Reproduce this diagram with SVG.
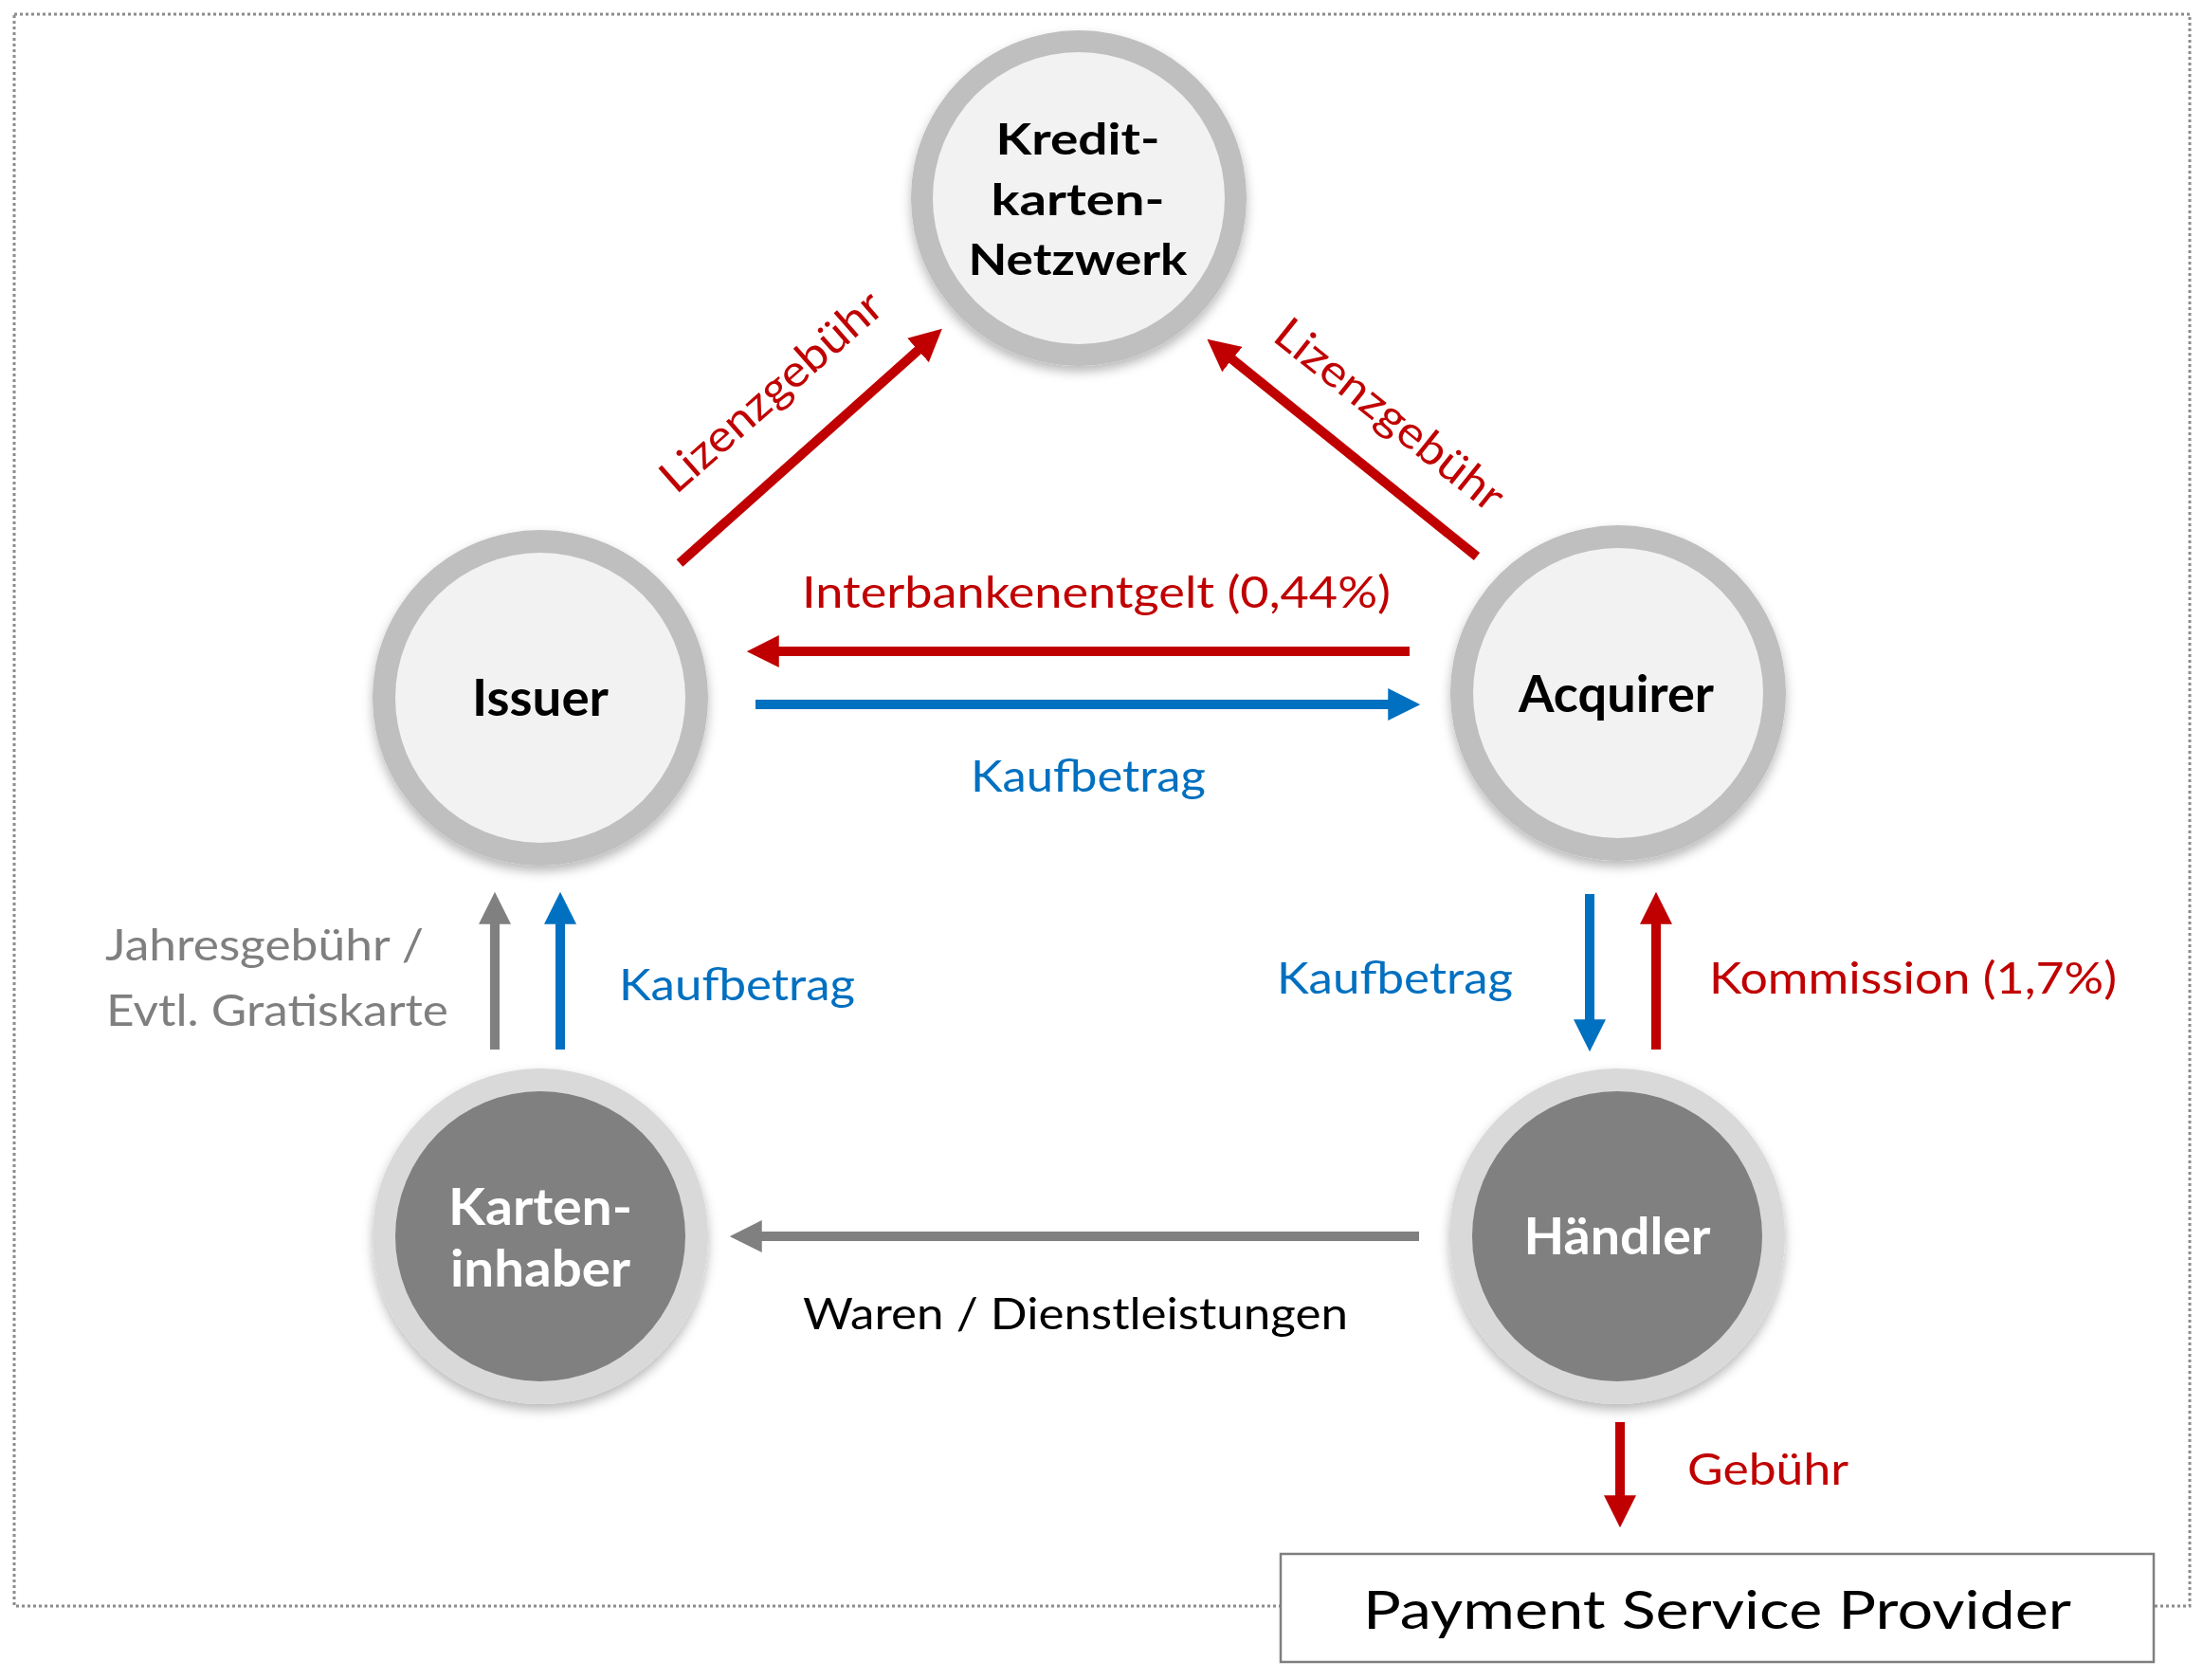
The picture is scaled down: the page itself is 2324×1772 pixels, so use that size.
<svg xmlns="http://www.w3.org/2000/svg" width="2324" height="1772" viewBox="0 0 2324 1772">
<style>
.ringL{fill:#bfbfbf}
.coreL{fill:#f2f2f2}
.ringD{fill:#d9d9d9}
.coreD{fill:#808080}
.nt{font-family:Lato,"Open Sans",sans-serif;font-weight:700;font-size:53px;text-anchor:middle}
.nk{font-size:45px}
.dark{fill:#000}
.light{fill:#fff}
.lb{font-family:Lato,"Liberation Sans",sans-serif;font-size:47px}
.red{fill:#c00000}
.blue{fill:#0070c0}
.gray{fill:#7f7f7f}
.blk{fill:#000}
.ar{fill:none;stroke-width:10}
.sr{stroke:#c00000}
.sb{stroke:#0070c0}
.sg{stroke:#808080}
</style>
<defs>
<filter id="sh" x="-20%" y="-20%" width="140%" height="150%">
<feDropShadow dx="0" dy="6" stdDeviation="6" flood-color="#000" flood-opacity="0.28"/>
</filter>
<marker id="mr" markerUnits="userSpaceOnUse" markerWidth="34" markerHeight="34" viewBox="0 0 32 32" refX="12" refY="16" orient="auto"><path d="M0,0 L32,16 L0,32 z" fill="#c00000"/></marker>
<marker id="mb" markerUnits="userSpaceOnUse" markerWidth="34" markerHeight="34" viewBox="0 0 32 32" refX="12" refY="16" orient="auto"><path d="M0,0 L32,16 L0,32 z" fill="#0070c0"/></marker>
<marker id="mg" markerUnits="userSpaceOnUse" markerWidth="34" markerHeight="34" viewBox="0 0 32 32" refX="12" refY="16" orient="auto"><path d="M0,0 L32,16 L0,32 z" fill="#808080"/></marker>
</defs>
<rect width="2324" height="1772" fill="#fff"/>
<rect id="frame" x="15" y="15" width="2295" height="1679" fill="none" stroke="#8c8c8c" stroke-width="3" stroke-dasharray="3 3"/>

<g id="connectors">
<line class="ar sr" x1="717" y1="594" x2="978" y2="361" marker-end="url(#mr)"/>
<line class="ar sr" x1="1558" y1="587" x2="1290" y2="371" marker-end="url(#mr)"/>
<line class="ar sr" x1="1487" y1="687" x2="809" y2="687" marker-end="url(#mr)"/>
<line class="ar sb" x1="797" y1="743" x2="1477" y2="743" marker-end="url(#mb)"/>
<line class="ar sg" x1="522" y1="1107" x2="522" y2="962" marker-end="url(#mg)"/>
<line class="ar sb" x1="591" y1="1107" x2="591" y2="962" marker-end="url(#mb)"/>
<line class="ar sb" x1="1677" y1="943" x2="1677" y2="1088" marker-end="url(#mb)"/>
<line class="ar sr" x1="1747" y1="1107" x2="1747" y2="962" marker-end="url(#mr)"/>
<line class="ar sg" x1="1497" y1="1304" x2="791" y2="1304" marker-end="url(#mg)"/>
<line class="ar sr" x1="1709" y1="1500" x2="1709" y2="1590" marker-end="url(#mr)"/>
</g>

<g id="labels">
<text class="lb red" transform="translate(824,425) rotate(-41.3)" text-anchor="middle" textLength="295" lengthAdjust="spacingAndGlyphs">Lizenzgebühr</text>
<text class="lb red" transform="translate(1456,450) rotate(38.6)" text-anchor="middle" textLength="295" lengthAdjust="spacingAndGlyphs">Lizenzgebühr</text>
<text class="lb red" x="846" y="641" textLength="621" lengthAdjust="spacingAndGlyphs">Interbankenentgelt (0,44%)</text>
<text class="lb blue" x="1024" y="835" textLength="248" lengthAdjust="spacingAndGlyphs">Kaufbetrag</text>
<text class="lb gray" x="111" y="1013" textLength="336" lengthAdjust="spacingAndGlyphs">Jahresgebühr /</text>
<text class="lb gray" x="112" y="1082" textLength="361" lengthAdjust="spacingAndGlyphs">Evtl. Gratiskarte</text>
<text class="lb blue" x="653" y="1055" textLength="249" lengthAdjust="spacingAndGlyphs">Kaufbetrag</text>
<text class="lb blue" x="1347" y="1048" textLength="249" lengthAdjust="spacingAndGlyphs">Kaufbetrag</text>
<text class="lb red" x="1803" y="1048" textLength="430" lengthAdjust="spacingAndGlyphs">Kommission (1,7%)</text>
<text class="lb blk" x="847" y="1402" textLength="575" lengthAdjust="spacingAndGlyphs">Waren / Dienstleistungen</text>
<text class="lb red" x="1780" y="1566" textLength="170" lengthAdjust="spacingAndGlyphs">Gebühr</text>
</g>

<g id="node-netzwerk" filter="url(#sh)">
<circle class="ringL" cx="1138" cy="209" r="177"/>
<circle class="coreL" cx="1138" cy="209" r="154"/>
<text class="nt nk dark" x="1137" y="163" textLength="173" lengthAdjust="spacingAndGlyphs">Kredit-</text>
<text class="nt nk dark" x="1137" y="227" textLength="183" lengthAdjust="spacingAndGlyphs">karten-</text>
<text class="nt nk dark" x="1137" y="290" textLength="231" lengthAdjust="spacingAndGlyphs">Netzwerk</text>
</g>

<g id="node-issuer" filter="url(#sh)">
<circle class="ringL" cx="570" cy="736" r="177"/>
<circle class="coreL" cx="570" cy="736" r="153"/>
<text class="nt dark" x="570" y="755" textLength="144" lengthAdjust="spacingAndGlyphs">Issuer</text>
</g>

<g id="node-acquirer" filter="url(#sh)">
<circle class="ringL" cx="1707" cy="731" r="177"/>
<circle class="coreL" cx="1707" cy="731" r="153"/>
<text class="nt dark" x="1705" y="751" textLength="206" lengthAdjust="spacingAndGlyphs">Acquirer</text>
</g>

<g id="node-karteninhaber" filter="url(#sh)">
<circle class="ringD" cx="570" cy="1304" r="177"/>
<circle class="coreD" cx="570" cy="1304" r="153"/>
<text class="nt light" x="570" y="1292" textLength="194" lengthAdjust="spacingAndGlyphs">Karten-</text>
<text class="nt light" x="570" y="1357" textLength="190" lengthAdjust="spacingAndGlyphs">inhaber</text>
</g>

<g id="node-haendler" filter="url(#sh)">
<circle class="ringD" cx="1706" cy="1304" r="177"/>
<circle class="coreD" cx="1706" cy="1304" r="153"/>
<text class="nt light" x="1706" y="1323" textLength="197" lengthAdjust="spacingAndGlyphs">Händler</text>
</g>

<g id="node-psp">
<rect x="1351" y="1639" width="921" height="114" fill="#fff" stroke="#7f7f7f" stroke-width="2.5"/>
<text class="lb blk" x="1438" y="1718" style="font-size:57px" textLength="747" lengthAdjust="spacingAndGlyphs">Payment Service Provider</text>
</g>
</svg>
